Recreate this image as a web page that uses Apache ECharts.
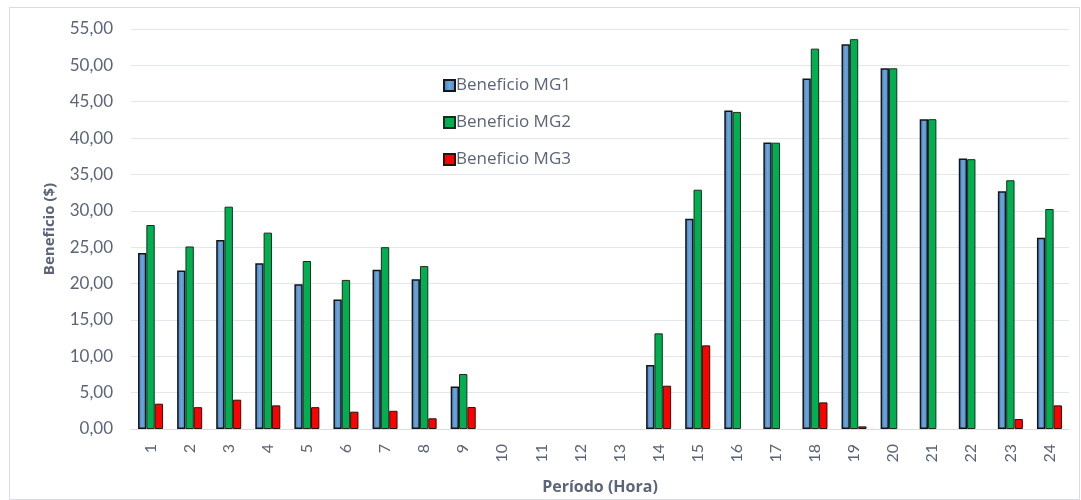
<!DOCTYPE html>
<html>
<head>
<meta charset="utf-8">
<script src="https://cdn.jsdelivr.net/npm/echarts@6/dist/echarts.min.js"></script>
<style>
html,body{margin:0;padding:0;background:#fff;}
#chart{width:1081px;height:500px;}
</style>
</head>
<body>
<div id="chart"></div>
<script>
var categories = ['1','2','3','4','5','6','7','8','9','10','11','12','13','14','15','16','17','18','19','20','21','22','23','24'];
var mg1 = [24.2, 21.8, 26.0, 22.8, 19.9, 17.8, 21.9, 20.6, 5.86, 0, 0, 0, 0, 8.8, 28.9, 43.8, 39.4, 48.2, 52.9, 49.6, 42.6, 37.2, 32.7, 26.3];
var mg2 = [28.05, 25.1, 30.57, 27.0, 23.1, 20.5, 25.0, 22.4, 7.56, 0, 0, 0, 0, 13.15, 32.9, 43.6, 39.37, 52.3, 53.6, 49.6, 42.6, 37.1, 34.2, 30.25];
var mg3 = [3.48, 3.0, 4.03, 3.25, 3.0, 2.38, 2.5, 1.47, 3.02, 0, 0, 0, 0, 5.95, 11.5, 0, 0, 3.66, 0.36, 0, 0, 0, 1.37, 3.25];
var seriesNames = ['Beneficio MG1', 'Beneficio MG2', 'Beneficio MG3'];

function nz(arr){ return arr.map(function(v){ return v === 0 ? null : v; }); }
var FONT = 'Lato';
var FONT2 = 'Open Sans';
var TXT = '#5b6478';

var chart = echarts.init(document.getElementById('chart'), null, {renderer:'canvas'});
chart.setOption({
  animation: false,
  backgroundColor: '#fff',
  textStyle: {fontFamily: FONT},
  graphic: [{
    type: 'rect', left: 7, top: 5, shape: {width: 1070, height: 492},
    style: {fill: 'none', stroke: '#d9dde3', lineWidth: 1}, silent: true, z: -1
  }],
  legend: {
    orient: 'vertical', left: 438, top: 72, itemWidth: 11, itemHeight: 11, itemGap: 20,
    icon: 'rect',
    textStyle: {fontFamily: FONT2, fontSize: 17, color: TXT, padding: [0,0,0,-4]},
    data: seriesNames
  },
  grid: {left: 131, right: 12, top: 29, bottom: 70.7, containLabel: false},
  xAxis: {
    type: 'category', data: categories,
    name: 'Período (Hora)', nameLocation: 'middle', nameGap: 50,
    nameTextStyle: {fontFamily: FONT2, fontSize: 16, fontWeight: 'bold', color: TXT},
    axisLine: {lineStyle: {color: '#d9dde3'}},
    axisTick: {show: false},
    axisLabel: {rotate: 90, fontSize: 16, color: TXT, margin: 15, fontFamily: FONT}
  },
  yAxis: {
    type: 'value', min: 0, max: 55, interval: 5,
    name: 'Beneficio ($)', nameLocation: 'middle', nameGap: 74,
    nameTextStyle: {fontFamily: FONT2, fontSize: 15, fontWeight: 'bold', color: TXT},
    axisLine: {show: false}, axisTick: {show: false},
    splitLine: {lineStyle: {color: '#e3e6ec', width: 1}},
    axisLabel: {fontSize: 17, color: TXT, margin: 18, fontFamily: FONT,
      formatter: function(v){ return v.toFixed(2).replace('.', ','); }}
  },
  series: [
    {name: seriesNames[0], type: 'bar', data: nz(mg1), barGap: '0%', barCategoryGap: '36%',
      itemStyle: {color: new echarts.graphic.LinearGradient(0,0,1,0,[
        {offset:0, color:'#3f78b8'},{offset:0.5, color:'#6ea6dd'},{offset:1, color:'#4b86c6'}]),
        borderColor: '#151515', borderWidth: 1.5}},
    {name: seriesNames[1], type: 'bar', data: nz(mg2),
      itemStyle: {color: '#00b050', borderColor: '#1d2b1f', borderWidth: 1}},
    {name: seriesNames[2], type: 'bar', data: nz(mg3),
      itemStyle: {color: '#ff0000', borderColor: '#2a1111', borderWidth: 1}}
  ]
});
</script>
</body>
</html>
